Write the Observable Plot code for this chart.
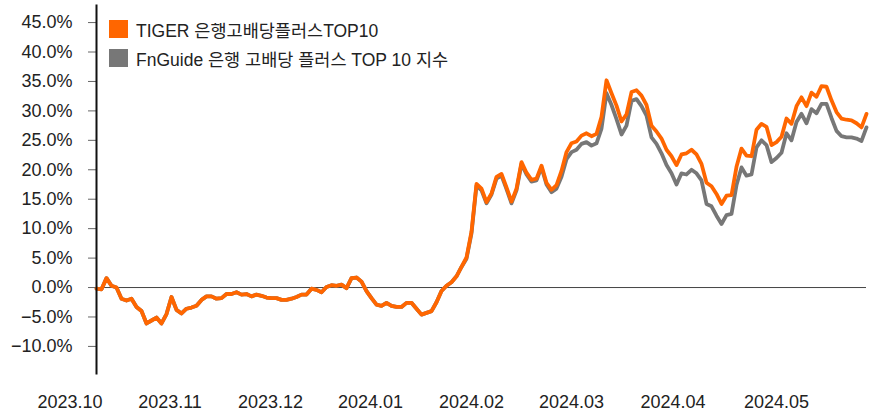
<!DOCTYPE html>
<html>
<head>
<meta charset="utf-8">
<script src="https://cdn.jsdelivr.net/npm/d3@7"></script>
<script src="https://cdn.jsdelivr.net/npm/@observablehq/plot@0.6"></script>
<style>
  body { margin: 0; background: #fff; }
  #wrap { position: relative; width: 871px; height: 413px; font-family: "Liberation Sans", Arial, "Noto Sans CJK KR", sans-serif; }
  #wrap svg { position: absolute; left: 0; top: 0; }
  .legend { position: absolute; left: 109px; top: 20px; font-size: 17.5px; color: #222; }
  .legend .row { display: flex; align-items: center; height: 18px; margin-bottom: 11px; white-space: nowrap; }
  .legend .sw { width: 19px; height: 18px; margin-right: 8px; flex: none; }
</style>
</head>
<body>
<div id="wrap"></div>
<script>
// Series names
const seriesNames = ["TIGER 은행고배당플러스TOP10", "FnGuide 은행 고배당 플러스 TOP 10 지수"];
const seriesColors = ["#ff6600", "#777777"];

// Cumulative return (%), sampled evenly from 2023.10 to 2024.05
const tiger = [
  -0.2, -0.3, 1.6, 0.3, 0.0, -1.9, -2.2, -1.9, -3.3, -4.0,
  -6.1, -5.6, -5.1, -6.1, -4.5, -1.6, -3.8, -4.4, -3.6, -3.4,
  -3.1, -2.1, -1.5, -1.5, -1.9, -1.8, -1.1, -1.1, -0.8, -1.2,
  -1.1, -1.5, -1.2, -1.4, -1.7, -1.8, -1.8, -2.1, -2.1, -1.9,
  -1.6, -1.2, -1.2, -0.2, -0.4, -0.8, 0.1, 0.4, 0.3, 0.5,
  -0.1, 1.6, 1.7, 1.0, -0.6, -1.8, -2.9, -3.1, -2.6, -3.1,
  -3.3, -3.3, -2.6, -2.6, -3.6, -4.6, -4.3, -4.0, -2.5, -0.6,
  0.3, 0.9, 1.9, 3.5, 5.1, 9.5, 17.6, 16.8, 14.5, 16.0,
  18.8, 19.3, 17.0, 14.6, 16.8, 21.3, 19.5, 18.3, 18.5, 20.7,
  17.8, 16.6, 17.4, 19.8, 23.0, 24.5, 24.8, 25.8, 26.2, 25.7,
  26.1, 29.0, 35.2, 33.0, 30.9, 28.2, 29.4, 33.2, 33.5, 32.6,
  31.0, 27.5, 26.5, 25.3, 23.4, 22.3, 20.8, 22.6, 22.8, 23.4,
  22.6, 21.0, 17.8, 17.2, 15.9, 14.2, 15.6, 15.7, 20.5, 23.6,
  22.4, 22.3, 26.8, 27.8, 27.3, 24.2, 24.7, 25.6, 28.7, 27.8,
  30.8, 32.3, 30.8, 33.1, 32.4, 34.2, 34.1, 31.8, 29.8, 28.7,
  28.5, 28.4, 27.9, 27.2, 29.5
];
const fnguide = [
  -0.2, -0.3, 1.6, 0.3, 0.0, -1.9, -2.2, -1.9, -3.3, -4.0,
  -6.1, -5.6, -5.1, -6.1, -4.5, -1.6, -3.8, -4.4, -3.6, -3.4,
  -3.1, -2.1, -1.5, -1.5, -1.9, -1.8, -1.1, -1.1, -0.8, -1.2,
  -1.1, -1.5, -1.2, -1.4, -1.7, -1.8, -1.8, -2.1, -2.1, -1.9,
  -1.6, -1.2, -1.2, -0.2, -0.4, -0.8, 0.1, 0.4, 0.3, 0.5,
  -0.1, 1.6, 1.7, 1.0, -0.6, -1.8, -2.9, -3.1, -2.6, -3.1,
  -3.3, -3.3, -2.6, -2.6, -3.6, -4.6, -4.3, -4.0, -2.5, -0.6,
  0.3, 0.9, 1.9, 3.5, 4.9, 9.2, 17.3, 16.5, 14.3, 15.8,
  18.5, 19.0, 16.7, 14.3, 16.5, 21.0, 19.2, 18.0, 18.2, 20.4,
  17.5, 16.2, 16.8, 18.8, 21.8, 23.0, 23.4, 24.4, 24.7, 24.1,
  24.5, 27.0, 33.0, 31.0, 28.6, 26.0, 27.5, 31.7, 32.0, 30.8,
  29.2, 25.5, 24.4, 22.8, 20.8, 19.4, 17.5, 19.4, 19.2, 20.0,
  19.4, 18.2, 14.2, 13.8, 12.2, 10.8, 12.3, 12.5, 17.4, 20.4,
  19.0, 19.2, 23.8, 25.0, 24.2, 21.3, 22.0, 22.9, 26.2, 25.0,
  28.1, 29.5, 27.9, 30.3, 29.6, 31.2, 31.2, 28.8, 26.6, 25.7,
  25.5, 25.5, 25.3, 24.9, 27.2
];

// Axis ticks
const monthLabels = ["2023.10", "2023.11", "2023.12", "2024.01", "2024.02", "2024.03", "2024.04", "2024.05"];
const monthTickPos = [-5.3, 14.7, 34.8, 54.8, 75.0, 95.0, 115.3, 136.0];
const yTicks = [-10, -5, 0, 5, 10, 15, 20, 25, 30, 35, 40, 45];

const rows = [
  ...fnguide.map((v, i) => ({ i, v, s: seriesNames[1] })),
  ...tiger.map((v, i) => ({ i, v, s: seriesNames[0] }))
];

const fmtPct = d => (d < 0 ? "\u2212" : "") + Math.abs(d).toFixed(1) + "%";

const chart = Plot.plot({
  width: 871,
  height: 413,
  marginLeft: 96,
  marginRight: 5,
  marginTop: 5,
  marginBottom: 40,
  style: { fontFamily: "'Liberation Sans', Arial, 'Noto Sans CJK KR', sans-serif", fontSize: "18px", color: "#222", background: "transparent", overflow: "visible" },
  x: { domain: [0, tiger.length - 1], axis: null },
  y: { domain: [-14.6, 47.9], axis: null },
  color: { domain: seriesNames, range: seriesColors },
  marks: [
    Plot.ruleY([0], { stroke: "#444", strokeWidth: 1 }),
    Plot.axisY({ ticks: yTicks, tickFormat: fmtPct, tickSize: 8, tickPadding: 16, stroke: "#666", fill: "#222", fontSize: 18, label: null }),
    Plot.axisX({ ticks: monthTickPos, tickFormat: (d, i) => monthLabels[i], tickSize: 0, tickPadding: 22, fill: "#222", fontSize: 18, label: null }),
    Plot.line(rows, { x: "i", y: "v", z: "s", stroke: "s", strokeWidth: 3.8, strokeLinejoin: "round", strokeLinecap: "round" }),
    Plot.frame({ anchor: "left", stroke: "#111", strokeWidth: 2 })
  ]
});

const wrap = document.getElementById("wrap");
wrap.appendChild(chart);

const legend = document.createElement("div");
legend.className = "legend";
seriesNames.forEach((name, k) => {
  const row = document.createElement("div");
  row.className = "row";
  const sw = document.createElement("span");
  sw.className = "sw";
  sw.style.background = seriesColors[k];
  const tx = document.createElement("span");
  tx.textContent = name;
  row.appendChild(sw);
  row.appendChild(tx);
  legend.appendChild(row);
});
wrap.appendChild(legend);
</script>
</body>
</html>
